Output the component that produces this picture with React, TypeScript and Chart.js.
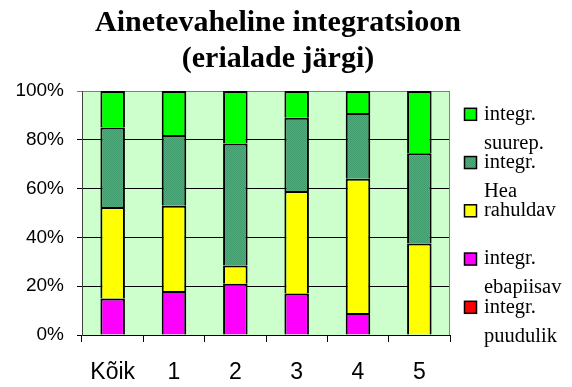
import React, { useEffect, useRef } from 'react';
import { Chart, registerables } from 'chart.js';

Chart.register(...registerables);

const titleLines = ['Ainetevaheline integratsioon', '(erialade järgi)'];
const categories = ['Kõik', '1', '2', '3', '4', '5'];
const puudulik = [0, 0, 0, 0, 0, 0];
const ebapiisav = [15, 18, 21, 17, 9, 0];
const rahuldav = [37.5, 35, 7.5, 42, 55, 37.5];
const hea = [32.5, 29, 50, 30, 27, 37];
const suurep = [15, 18, 21.5, 11, 9, 25.5];
const seriesLabels = ['integr. puudulik', 'integr. ebapiisav', 'integr. rahuldav', 'integr. Hea', 'integr. suurep.'];
const legendLines = [
  ['integr.', 'puudulik'],
  ['integr.', 'ebapiisav'],
  ['rahuldav'],
  ['integr.', 'Hea'],
  ['integr.', 'suurep.'],
];
const yMax = 100;
const yStep = 20;

function makePattern(): CanvasPattern | string {
  const c = document.createElement('canvas');
  c.width = 2;
  c.height = 2;
  const g = c.getContext('2d');
  if (!g) return '#4CA57A';
  g.fillStyle = '#55AB80';
  g.fillRect(0, 0, 2, 2);
  g.fillStyle = '#3F9A6C';
  g.fillRect(0, 0, 1, 1);
  g.fillRect(1, 1, 1, 1);
  const p = g.createPattern(c, 'repeat');
  return p || '#4CA57A';
}

export default function App() {
  const ref = useRef<HTMLCanvasElement | null>(null);

  useEffect(() => {
    document.body.style.margin = '0';
    const canvas = ref.current;
    if (!canvas) return;
    const heaFill = makePattern();
    const colors: any[] = ['#FF0000', '#FF00FF', '#FFFF00', heaFill, '#00FF00'];
    const values = [puudulik, ebapiisav, rahuldav, hea, suurep];

    const bgPlugin = {
      id: 'bgPlugin',
      beforeDraw(chart: any) {
        const { ctx, chartArea: a } = chart;
        ctx.save();
        ctx.fillStyle = '#FFFFFF';
        ctx.fillRect(0, 0, chart.width, chart.height);
        ctx.fillStyle = '#CCFFCC';
        ctx.fillRect(a.left, a.top, a.right - a.left, a.bottom - a.top);
        ctx.restore();
      },
      beforeDatasetsDraw(chart: any) {
        const { ctx, chartArea: a } = chart;
        ctx.save();
        ctx.strokeStyle = '#808080';
        ctx.lineWidth = 1;
        ctx.beginPath();
        ctx.moveTo(a.right - 0.5, a.top);
        ctx.lineTo(a.right - 0.5, a.bottom);
        ctx.stroke();
        ctx.restore();
      },
      afterDraw(chart: any) {
        const { ctx, chartArea: a } = chart;
        ctx.save();
        // title
        ctx.fillStyle = '#000';
        ctx.textAlign = 'center';
        ctx.textBaseline = 'alphabetic';
        ctx.font = 'bold 30px "Liberation Serif", "Times New Roman", serif';
        const cx = (a.left + a.right) / 2 + 12;
        titleLines.forEach((t, i) => {
          ctx.fillText(t, cx, 30.5 + i * 36);
        });
        // legend
        const ds = chart.data.datasets;
        const n = ds.length;
        ctx.textAlign = 'left';
        ctx.textBaseline = 'middle';
        ctx.font = '20.5px "Liberation Serif", "Times New Roman", serif';
        for (let k = 0; k < n; k++) {
          const di = n - 1 - k;
          const cy = a.top + 23.3 + k * 48.25;
          const bx = a.right + 14.5;
          ctx.fillStyle = ds[di].backgroundColor;
          ctx.fillRect(bx, cy - 6, 12, 12);
          ctx.strokeStyle = '#000';
          ctx.lineWidth = 1.5;
          ctx.strokeRect(bx, cy - 6, 12, 12);
          ctx.fillStyle = '#000';
          legendLines[di].forEach((line, li) => {
            ctx.fillText(line, a.right + 34, cy + li * 29);
          });
        }
        ctx.restore();
      },
    };

    const chart = new Chart(canvas, {
      type: 'bar',
      data: {
        labels: categories,
        datasets: values.map((v, i) => ({
          label: seriesLabels[i],
          data: v,
          backgroundColor: colors[i],
          borderColor: '#000',
          borderWidth: 2,
          categoryPercentage: 1,
          barPercentage: 0.4,
        })),
      },
      options: {
        responsive: false,
        animation: false,
        layout: { padding: { top: 91, right: 122, bottom: 0, left: 0 } },
        plugins: {
          legend: { display: false },
          title: { display: false },
          tooltip: { enabled: false },
        },
        scales: {
          x: {
            stacked: true,
            afterFit: (s: any) => { s.height = 52; },
            grid: {
              offset: true,
              drawOnChartArea: false,
              drawTicks: true,
              tickLength: 7,
              color: '#000',
            },
            border: { color: '#000', width: 1 },
            ticks: {
              color: '#000',
              padding: 17,
              font: { family: '"Liberation Sans", Arial, sans-serif', size: 23 },
            },
          },
          y: {
            stacked: true,
            min: 0,
            max: yMax,
            afterFit: (s: any) => { s.width = 82; },
            grid: {
              color: (c: any) => (c.tick && c.tick.value === yMax ? '#808080' : '#000'),
              tickLength: 5,
              drawTicks: true,
            },
            border: { color: '#404040', width: 1 },
            ticks: {
              stepSize: yStep,
              color: '#000',
              padding: 13,
              callback: (v: any) => v + '%',
              font: { family: '"Liberation Sans", Arial, sans-serif', size: 19 },
            },
          },
        },
      },
      plugins: [bgPlugin],
    });
    return () => chart.destroy();
  }, []);

  return (
    <div style={{ width: 572, height: 387 }}>
      <canvas ref={ref} width={572} height={387} style={{ display: 'block' }} />
    </div>
  );
}
